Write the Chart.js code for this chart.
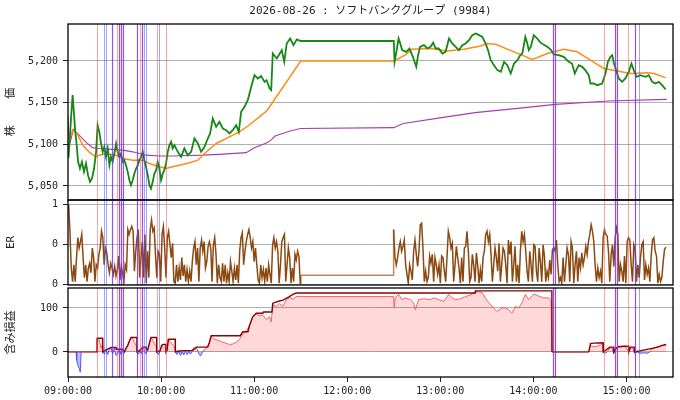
<!DOCTYPE html>
<html>
<head>
<meta charset="utf-8">
<script src="https://cdn.jsdelivr.net/npm/chart.js@4.4.1/dist/chart.umd.min.js"></script>
<style>
  body { margin: 0; background: #fff; }
  #wrap { position: relative; width: 680px; height: 400px; }
  canvas { position: absolute; left: 0; }
</style>
</head>
<body>
<div id="wrap">
  <canvas id="priceChart" width="680" height="210" style="top:0px"></canvas>
  <canvas id="erChart" width="680" height="100" style="top:192px"></canvas>
  <canvas id="pnlChart" width="680" height="120" style="top:280px"></canvas>
</div>
<script>
// time is minutes after 09:00
const chartTitle = "2026-08-26 : ソフトバンクグループ (9984)";

const xTicks = [0, 60, 120, 180, 240, 300, 360];
const xTickLabels = ["09:00:00", "10:00:00", "11:00:00", "12:00:00", "13:00:00", "14:00:00", "15:00:00"];

const priceTicks = [5050, 5100, 5150, 5200];
const priceTickLabels = ["5,050", "5,100", "5,150", "5,200"];
const erTicks = [0, 0.5, 1];
const erTickLabels = ["0", "0", "1"];
const pnlTicks = [0, 100];
const pnlTickLabels = ["0", "100"];

// [minute, price]
const pricePoints = [
  [0, 5085], [0.4, 5087], [1.3, 5111], [2.2, 5139], [3, 5159], [3.9, 5135], [4.7, 5115], [5.6, 5099],
  [6.5, 5079], [7.7, 5071], [9, 5079], [10.3, 5067], [11.6, 5077], [12.9, 5063], [14.2, 5055],
  [15.5, 5059], [16.8, 5071], [18.1, 5091], [19.1, 5123], [20.2, 5115], [21.3, 5101], [22.4, 5091],
  [23.4, 5097], [24.5, 5085], [25.6, 5095], [26.7, 5075], [27.7, 5085], [28.8, 5079], [29.9, 5089],
  [31, 5101], [32, 5091], [33.1, 5085], [34.2, 5089], [35.3, 5079], [36.3, 5081], [37.4, 5075],
  [38.5, 5067], [39.6, 5057], [40.6, 5051], [41.7, 5057], [42.8, 5065], [43.9, 5071], [45, 5075],
  [46, 5081], [47.1, 5085], [48.2, 5091], [49.2, 5081], [50.3, 5073], [51.4, 5063], [52.5, 5051],
  [53.5, 5047], [54.6, 5055], [55.7, 5065], [56.8, 5069], [57.8, 5079], [58.9, 5071], [60, 5057],
  [61.1, 5065], [62.1, 5069], [63.2, 5077], [64.3, 5091], [65.4, 5099], [66.5, 5103], [67.5, 5095],
  [68.6, 5099], [70.8, 5091], [72.9, 5085], [75, 5095], [77.2, 5087],
  [79.4, 5091], [81.5, 5107], [83.7, 5101], [85.8, 5091], [88, 5097], [90.1, 5107], [91.6, 5113],
  [93.3, 5131], [95.5, 5121], [97.6, 5127], [99.8, 5119], [101.9, 5117], [104.1, 5113], [106.2, 5117],
  [108.4, 5123], [110.1, 5115], [111.6, 5139], [113.8, 5145], [115.9, 5153], [118.1, 5169], [120.2, 5183],
  [122.4, 5179], [124.5, 5182], [126.7, 5175], [128, 5177], [130, 5167], [131, 5165], [132, 5209],
  [134.6, 5203], [137.8, 5213], [139.4, 5199], [141, 5221], [143.2, 5227], [145.4, 5219], [147.5, 5226],
  [150, 5224], [210, 5224], [210.5, 5199], [211.5, 5209], [213.1, 5227], [214.2, 5221], [215.4, 5213],
  [218, 5211], [220.1, 5215], [222.3, 5205], [224.5, 5193], [225.5, 5205], [226.9, 5217], [229.4, 5219],
  [231.6, 5215], [233.7, 5217], [235.4, 5222], [237, 5215], [239, 5215], [241.3, 5209], [243.4, 5211],
  [245.6, 5227], [247.7, 5221], [249.9, 5217], [252, 5213], [254.2, 5219], [256.3, 5221], [258.5, 5225],
  [260.6, 5231], [262.8, 5233], [264.9, 5231], [267.1, 5229], [269.2, 5221], [270.8, 5213], [272.5, 5201],
  [274.6, 5195], [276.8, 5189], [279, 5187], [281.1, 5199], [283.2, 5195], [285.4, 5185], [287.5, 5197],
  [289.7, 5201], [291.6, 5207], [292.9, 5209], [294.8, 5229], [296.1, 5221], [297, 5213], [298.3, 5217],
  [300.3, 5231], [302.5, 5227], [304.6, 5222], [307.3, 5219], [309, 5217], [311, 5214], [313.2, 5208],
  [316.3, 5207], [319.6, 5205], [322.8, 5199], [324.9, 5197], [326.7, 5185], [329.2, 5195], [331.4, 5193],
  [333.5, 5189], [335.7, 5183], [336.8, 5173], [338.9, 5173], [341.1, 5171], [344.3, 5173], [346.5, 5185],
  [348, 5199], [349.7, 5205], [350.8, 5207], [352, 5197], [353.3, 5189], [355, 5179], [357.2, 5175],
  [359.3, 5179], [361.5, 5187], [363.2, 5197], [364.7, 5189], [366.5, 5181], [369, 5183], [372.3, 5181],
  [374.4, 5183], [376.6, 5175], [378.7, 5173], [380.9, 5175], [383, 5171], [385.2, 5166]
];

// moving average
const maPoints = [
  [0.6, 5104], [3, 5117], [5.5, 5114], [9.5, 5099], [13.5, 5091], [17.8, 5085], [20.2, 5087], [24.5, 5089],
  [31, 5087], [35.3, 5083], [41.7, 5081], [48.2, 5081], [52.5, 5077], [58.9, 5073], [63.2, 5071],
  [67.5, 5073], [71.8, 5075], [78.3, 5078], [83.7, 5081], [88, 5089], [95.5, 5101], [104.1, 5109],
  [110.5, 5115], [116, 5122], [123.4, 5133], [128, 5140], [131.4, 5149], [150, 5200], [210, 5200],
  [217.3, 5207], [221.6, 5214], [233.7, 5215], [244.5, 5212], [255.2, 5214], [266, 5218], [270.3, 5221],
  [275.7, 5220], [287.5, 5211], [299.3, 5202], [309, 5209], [319.6, 5214], [328.2, 5211], [336.8, 5201],
  [345.4, 5191], [354, 5188], [362.6, 5185], [373.3, 5186], [377.6, 5185], [385.2, 5180]
];

// vwap
const vwapPoints = [
  [0, 5135], [0.8, 5098], [3.5, 5118], [7.1, 5111], [11.4, 5103], [15.7, 5096], [20.2, 5095], [28, 5094],
  [35.3, 5093], [41.7, 5091], [50.3, 5087], [58.9, 5086], [67.5, 5086], [86.9, 5087], [97.6, 5088],
  [114.8, 5090], [120.2, 5096], [128.2, 5102], [130.8, 5105], [133.5, 5110], [143.2, 5116], [150, 5119],
  [210, 5120], [216.1, 5125], [240.9, 5132], [262.4, 5138], [294.6, 5144], [314, 5148], [348.4, 5152],
  [386, 5154]
];

// ER, sampled evenly over each session
const erAmStart = 0.4;
const erAmEnd = 149.7;
const erAmValues = [
  0.99, 0.66, 0.20, 0.03, 0.24, 0.03, 0.33, 0.58, 0.45, 0.53, 0.62, 0.33, 0.08, 0.24, 0.03, 0.20, 0.26, 0.14,
  0.45, 0.33, 0.03, 0.24, 0.20, 0.37, 0.45, 0.66, 0.58, 0.24, 0.45, 0.39, 0.24, 0.14, 0.26, 0.20, 0.12, 0.22,
  0.10, 0.18, 0.35, 0.05, 0.22, 0.14, 0.03, 0.24, 0.18, 0.68, 0.62, 0.68, 0.72, 0.66, 0.16, 0.41, 0.58, 0.68,
  0.08, 0.33, 0.53, 0.08, 0.62, 0.01, 0.41, 0.08, 0.68, 0.80, 0.66, 0.70, 0.37, 0.08, 0.41, 0.37, 0.03, 0.62,
  0.72, 0.45, 0.08, 0.58, 0.66, 0.49, 0.33, 0.51, 0.03, 0.01, 0.24, 0.03, 0.20, 0.05, 0.33, 0.10, 0.24, 0.03,
  0.18, 0.03, 0.16, 0.03, 0.28, 0.45, 0.53, 0.24, 0.45, 0.03, 0.45, 0.55, 0.41, 0.53, 0.20, 0.28, 0.47, 0.53,
  0.45, 0.03, 0.49, 0.58, 0.37, 0.01, 0.24, 0.08, 0.03, 0.26, 0.03, 0.24, 0.01, 0.14, 0.03, 0.28, 0.16, 0.03,
  0.20, 0.05, 0.24, 0.01, 0.41, 0.58, 0.64, 0.24, 0.41, 0.53, 0.62, 0.68, 0.58, 0.45, 0.53, 0.28, 0.45, 0.24,
  0.05, 0.01, 0.24, 0.08, 0.18, 0.03, 0.20, 0.03, 0.24, 0.12, 0.01, 0.49, 0.58, 0.45, 0.53, 0.41, 0.01, 0.24,
  0.53, 0.58, 0.62, 0.03, 0.24, 0.45, 0.33, 0.01, 0.20, 0.03, 0.37, 0.30, 0.41, 0.35, 0.01
];
const erLunchPoints = [[150, 0.11], [209.8, 0.11]];
const erPmStart = 209.9;
const erPmEnd = 385.4;
const erPmValues = [
  0.68, 0.33, 0.24, 0.33, 0.45, 0.53, 0.41, 0.47, 0.55, 0.24, 0.12, 0.01, 0.24, 0.16, 0.05, 0.41, 0.55, 0.37,
  0.22, 0.41, 0.74, 0.76, 0.45, 0.03, 0.16, 0.03, 0.08, 0.35, 0.26, 0.37, 0.03, 0.33, 0.24, 0.12, 0.24, 0.01,
  0.35, 0.33, 0.16, 0.03, 0.33, 0.66, 0.58, 0.45, 0.51, 0.03, 0.24, 0.47, 0.33, 0.20, 0.01, 0.33, 0.03, 0.45,
  0.47, 0.66, 0.41, 0.03, 0.08, 0.37, 0.24, 0.03, 0.39, 0.24, 0.01, 0.18, 0.03, 0.33, 0.41, 0.62, 0.66, 0.53,
  0.62, 0.37, 0.03, 0.24, 0.45, 0.33, 0.16, 0.51, 0.03, 0.24, 0.45, 0.41, 0.24, 0.01, 0.55, 0.37, 0.53, 0.03,
  0.24, 0.47, 0.03, 0.24, 0.01, 0.41, 0.66, 0.53, 0.62, 0.41, 0.16, 0.03, 0.41, 0.24, 0.03, 0.49, 0.47, 0.16,
  0.03, 0.45, 0.28, 0.03, 0.49, 0.35, 0.03, 0.16, 0.08, 0.30, 0.12, 0.43, 0.45, 0.41, 0.55, 0.24, 0.03, 0.08,
  0.01, 0.33, 0.03, 0.24, 0.45, 0.37, 0.03, 0.53, 0.45, 0.01, 0.24, 0.41, 0.03, 0.33, 0.20, 0.39, 0.24, 0.33,
  0.47, 0.37, 0.53, 0.62, 0.74, 0.66, 0.53, 0.24, 0.03, 0.20, 0.08, 0.16, 0.01, 0.58, 0.68, 0.62, 0.60, 0.41,
  0.03, 0.37, 0.49, 0.22, 0.58, 0.70, 0.62, 0.03, 0.24, 0.16, 0.03, 0.35, 0.01, 0.53, 0.58, 0.55, 0.24, 0.03,
  0.49, 0.43, 0.03, 0.24, 0.08, 0.33, 0.49, 0.53, 0.05, 0.24, 0.12, 0.20, 0.03, 0.35, 0.55, 0.58, 0.41, 0.35,
  0.01, 0.12, 0.03, 0.08, 0.28, 0.43, 0.46
];

// unrealised P&L [minute, value]
const pnlPoints = [
  [0, 0], [5.2, 0], [5.6, -19], [6.4, -31], [7.3, -38], [7.9, -46], [8.3, -46], [8.5, 0], [18.7, 0],
  [18.8, 31], [20.2, 28], [21.3, 8], [22, 15], [22.4, 0], [23.4, -5], [24.5, 5], [25.6, -6], [26.7, 8],
  [27.7, 10], [28.8, -4], [29.9, 8], [31, -8], [32, -4], [33.1, 6], [34.2, -6], [35.3, 2], [36.3, 0],
  [37.4, 8], [38.5, 15], [39.6, 25], [40.6, 33], [41.7, 30], [42.8, 22], [43.9, 15], [44.5, 0], [45.6, -5],
  [46.4, 4], [47.3, -4], [48.2, 11], [49.2, 2], [50.3, -4], [51.4, 5], [52.5, 20], [53.5, 32], [54.6, 27],
  [55.7, 18], [56.8, 12], [57.2, 0], [58.3, -6], [59.4, 3], [60.4, 15], [61.5, 12], [62.6, 8], [63.2, 0],
  [63.9, 5], [64.7, 29], [65.8, 24], [67.1, 18], [68.6, 12], [69.2, 0], [70.3, -6], [71.4, 2], [72.5, -8],
  [73.5, 0], [74.6, -7], [75.7, 3], [76.8, -6], [77.9, 2], [78.9, -5], [80, 0], [81.5, 5], [83, 8],
  [84.3, -4], [85.4, -9], [86.5, -2], [87.5, 4], [88.6, 6], [90.1, 15], [91.2, 22], [92.3, 35], [93.3, 31],
  [95.5, 28], [97.6, 25], [99.8, 22], [101.9, 20], [104.1, 17], [106.2, 18], [108.4, 22], [110.5, 28],
  [112.7, 42], [114.8, 46], [117, 60], [119.1, 80], [121.3, 86], [123.4, 82], [125.6, 84], [127.7, 74],
  [129.9, 80], [131, 68], [132, 107], [134.2, 104], [136.3, 110], [138.5, 104], [140.6, 118], [142.8, 124],
  [144.9, 120], [147.1, 126], [150, 126], [209.9, 126], [210.3, 100], [210.9, 123], [213.1, 131],
  [215.3, 119], [217.4, 123], [220.6, 119], [222.8, 112], [223.9, 96], [226, 119], [229.2, 121],
  [233.5, 119], [235.7, 123], [238.9, 119], [242.2, 115], [245.4, 131], [247.6, 123], [249.7, 119],
  [252.9, 121], [257.2, 127], [260.4, 131], [262.6, 137], [264.7, 137], [266.9, 135], [269, 123],
  [271.2, 112], [274.4, 100], [276.6, 92], [279.8, 100], [281.9, 100], [284.1, 96], [286.2, 88],
  [288.4, 104], [290.5, 100], [292.7, 112], [294.8, 131], [297, 119], [300.2, 132], [303.4, 127],
  [306.7, 123], [309.9, 123], [311.4, 117], [311.9, 117], [312, 0], [335.7, 0], [336.8, 15], [339, 12],
  [341.1, 13], [343.3, 16], [344.3, 19], [344.9, 19], [345, 0], [346.5, -3], [347.6, 0], [349.3, 10],
  [350.8, 8], [351.8, -4], [352.9, 6], [354.4, 12], [356.1, 10], [358.3, 13], [360, 9], [361.5, 0],
  [362.6, 10], [364.3, 8], [365.2, -3], [366.9, 0], [369, -3], [371.2, -2], [373.3, -3], [375.1, 0],
  [376.6, 8], [378.7, 10], [380.9, 12], [383, 14], [385.6, 17]
];

// running peak of P&L per trade
const peakPoints = [
  [0, 0], [18.7, 0], [18.8, 31], [22.3, 31], [22.4, 0], [24.5, 5], [26.7, 8], [27.7, 10], [31, 10],
  [31.1, 6], [35.3, 6], [36.3, 0], [37.4, 8], [38.5, 15], [39.6, 25], [40.6, 33], [44.4, 33], [44.5, 0],
  [46.4, 4], [48.2, 11], [50.3, 11], [50.4, 5], [51.4, 5], [52.5, 20], [53.5, 33], [57.1, 33], [57.2, 0],
  [59.4, 3], [60.4, 15], [61.5, 17], [63.1, 17], [63.2, 0], [63.9, 5], [64.7, 29], [69.1, 29], [69.2, 0],
  [71.4, 2], [75.7, 3], [80, 3], [81.5, 8], [83, 11], [90.1, 11], [91.2, 22], [92.3, 37], [111, 37],
  [112.7, 46], [116, 46], [117, 60], [119.1, 80], [121.3, 88], [125.6, 88], [126, 91], [131.5, 91],
  [132, 111], [136.3, 116], [138.5, 118], [142.8, 126], [144.9, 131], [147.1, 134], [262.5, 134],
  [262.6, 139], [311.9, 139], [312, 0], [335.7, 0], [336.8, 19], [339, 20], [344.9, 21], [345, 0],
  [349.3, 11], [351.8, 11], [351.9, 0], [352.9, 6], [354.4, 12], [358.3, 13], [361.4, 13], [361.5, 0],
  [362.6, 11], [365.1, 11], [365.2, 0], [376.6, 8], [378.7, 10], [380.9, 12], [383, 15], [385.6, 17]
];

// trade markers
const vlineTimes = [19.0, 23.4, 24.5, 28.6, 31.5, 32.6, 34.2, 35.7, 44.8, 46.5, 47.7, 49.2, 50.3, 57.1,
  58.9, 62.9, 312.7, 313.7, 345.4, 352.9, 353.7, 360.8, 365.4, 368.4];
const vlineKinds = ["r", "b", "b", "p", "r", "p", "p", "p", "p", "r", "p", "b", "b", "r",
  "b", "r", "p", "p", "r", "p", "p", "r", "p", "b"];

const vlineColors = { r: "rgba(255,70,70,0.5)", b: "rgba(70,70,255,0.5)", p: "rgba(125,50,235,0.85)" };

Chart.defaults.font.family = "'DejaVu Sans Mono', 'Noto Sans CJK JP', monospace";
Chart.defaults.font.size = 10;
Chart.defaults.color = "#222";
Chart.defaults.animation = false;
Chart.defaults.elements.point.radius = 0;
Chart.defaults.elements.line.tension = 0;
Chart.defaults.plugins.legend.display = false;
Chart.defaults.plugins.tooltip.enabled = false;

const toXY = (pairs) => pairs.map(([x, y]) => ({ x: x, y: y }));

const isLunch = (c) => c.p0.parsed.x >= 150 && c.p1.parsed.x <= 210;

// trade lines and the black frame round each panel
const panelPlugin = {
  id: "panel",
  afterDatasetsDraw(chart) {
    const { ctx, chartArea, scales } = chart;
    ctx.save();
    ctx.beginPath();
    ctx.rect(chartArea.left, chartArea.top, chartArea.width, chartArea.height);
    ctx.clip();
    vlineTimes.forEach((t, i) => {
      const x = Math.round(scales.x.getPixelForValue(t)) + 0.5;
      ctx.strokeStyle = vlineColors[vlineKinds[i]];
      ctx.lineWidth = vlineKinds[i] === "p" ? 1.2 : 1;
      ctx.beginPath();
      ctx.moveTo(x, chartArea.top);
      ctx.lineTo(x, chartArea.bottom);
      ctx.stroke();
    });
    ctx.restore();
  },
  afterDraw(chart) {
    const { ctx, chartArea } = chart;
    ctx.save();
    ctx.strokeStyle = "#000";
    ctx.lineWidth = 1.3;
    ctx.strokeRect(chartArea.left, chartArea.top, chartArea.width, chartArea.height);
    ctx.restore();
  },
};

function leftAxis(min, max, ticks, labels, title) {
  return {
    position: "left",
    min: min,
    max: max,
    afterFit: (scale) => {
      scale.width = 68;
      scale.paddingTop = 0;
      scale.paddingBottom = 0;
    },
    afterBuildTicks: (scale) => {
      scale.ticks = ticks.map((v) => ({ value: v }));
    },
    ticks: { padding: 5, callback: (v, i) => labels[i] },
    grid: { color: "#b0b0b0", tickColor: "#222", tickLength: 5 },
    border: { display: false },
    title: { display: true, text: title, font: { size: 11 }, padding: { top: 5, bottom: 0 } },
  };
}

const hiddenX = { type: "linear", min: 0, max: 390, display: false };

new Chart(document.getElementById("priceChart"), {
  type: "line",
  data: {
    datasets: [
      { data: toXY(pricePoints), borderColor: "#168816", borderWidth: 1.8 },
      { data: toXY(maPoints), borderColor: "#ff8c1a", borderWidth: 1.5 },
      { data: toXY(vwapPoints), borderColor: "#a83cb0", borderWidth: 1.1 },
    ],
  },
  options: {
    responsive: false,
    layout: { padding: { right: 7, bottom: 10 } },
    plugins: {
      title: {
        display: true,
        text: chartTitle,
        fullSize: false,
        color: "#222",
        font: { size: 11, weight: "normal" },
        padding: { top: 5, bottom: 5.8 },
      },
    },
    scales: {
      x: hiddenX,
      y: leftAxis(5033.2, 5244.4, priceTicks, priceTickLabels, "株    価"),
    },
  },
  plugins: [panelPlugin],
});

const erPoints = [];
erAmValues.forEach((v, i) => {
  erPoints.push({ x: erAmStart + (i * (erAmEnd - erAmStart)) / (erAmValues.length - 1), y: v });
});
erLunchPoints.forEach(([x, y]) => erPoints.push({ x: x, y: y }));
erPmValues.forEach((v, i) => {
  erPoints.push({ x: erPmStart + (i * (erPmEnd - erPmStart)) / (erPmValues.length - 1), y: v });
});

new Chart(document.getElementById("erChart"), {
  type: "line",
  data: {
    datasets: [
      {
        data: erPoints,
        borderColor: "#8b4a12",
        borderWidth: 1.5,
        segment: { borderColor: (c) => (isLunch(c) ? "#b88a60" : undefined) },
      },
    ],
  },
  options: {
    responsive: false,
    layout: { padding: { top: 8, bottom: 7, right: 7 } },
    scales: {
      x: hiddenX,
      y: leftAxis(-0.0125, 1.05, erTicks, erTickLabels, "ER"),
    },
  },
  plugins: [panelPlugin],
});

new Chart(document.getElementById("pnlChart"), {
  type: "line",
  data: {
    datasets: [
      {
        data: toXY(peakPoints),
        borderColor: "#8b0000",
        borderWidth: 1.4,
        segment: {
          borderColor: (c) =>
            isLunch(c) || (c.p0.parsed.y === 0 && c.p1.parsed.y === 0) ? "rgba(150,30,30,0.7)" : undefined,
        },
      },
      {
        data: toXY(pnlPoints),
        borderColor: "rgba(255,80,80,0.9)",
        borderWidth: 1,
        segment: {
          borderColor: (c) => (c.p0.parsed.y < 0 || c.p1.parsed.y < 0 ? "rgba(70,70,255,0.9)" : undefined),
        },
        fill: { target: { value: 0 }, above: "rgba(255,0,0,0.15)", below: "rgba(0,0,255,0.25)" },
      },
    ],
  },
  options: {
    responsive: false,
    layout: { padding: { top: 8, right: 7 } },
    scales: {
      x: {
        type: "linear",
        min: 0,
        max: 390,
        afterFit: (scale) => {
          scale.height = 23;
          scale.paddingLeft = 0;
          scale.paddingRight = 0;
        },
        afterBuildTicks: (scale) => {
          scale.ticks = xTicks.map((v) => ({ value: v }));
        },
        ticks: { padding: 3, autoSkip: false, maxRotation: 0, callback: (v, i) => xTickLabels[i] },
        grid: { drawOnChartArea: false, tickColor: "#222", tickLength: 5 },
        border: { display: false },
      },
      y: leftAxis(-57, 145.5, pnlTicks, pnlTickLabels, "含み損益"),
    },
  },
  plugins: [panelPlugin],
});
</script>
</body>
</html>
